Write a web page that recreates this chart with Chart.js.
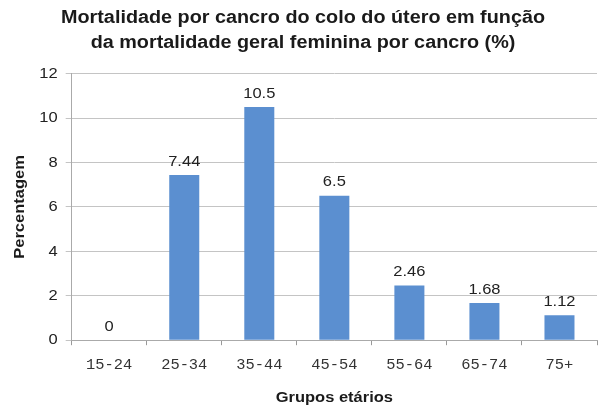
<!DOCTYPE html>
<html>
<head>
<meta charset="utf-8">
<script src="https://cdn.jsdelivr.net/npm/chart.js@4/dist/chart.umd.min.js"></script>
<style>
  html, body { margin: 0; padding: 0; background: #fff; }
  #wrap { width: 601px; height: 408px; }
</style>
</head>
<body>
<div id="wrap"><canvas id="myChart" width="601" height="408"></canvas></div>
<script>
const labels = ['15-24', '25-34', '35-44', '45-54', '55-64', '65-74', '75+'];
const values = [0, 7.44, 10.5, 6.5, 2.46, 1.68, 1.12];
const valueText = ['0', '7.44', '10.5', '6.5', '2.46', '1.68', '1.12'];

const SANS = '"Liberation Sans", Arial, sans-serif';
const STRETCH = 1.1; // the original picture's text is a bit wider than Arial

// widen every piece of text a little, around its anchor point
const canvas = document.getElementById('myChart');
const ctx2d = canvas.getContext('2d');
const plainFill = ctx2d.fillText;
ctx2d.fillText = function(text, x, y) {
    this.save();
    this.translate(x, y);
    this.scale(STRETCH, 1);
    plainFill.call(this, text, 0, 0);
    this.restore();
};

// draws the number above each bar
const barValues = {
    id: 'barValues',
    afterDatasetsDraw(chart) {
        const ctx = chart.ctx;
        const meta = chart.getDatasetMeta(0);
        ctx.save();
        ctx.font = '15px ' + SANS;
        ctx.fillStyle = '#222';
        ctx.textAlign = 'center';
        ctx.textBaseline = 'bottom';
        meta.data.forEach(function(bar, i) {
            ctx.fillText(valueText[i], bar.x, bar.y - 6);
        });
        ctx.restore();
    }
};

const data = {
    labels: labels,
    datasets: [{
        data: values,
        backgroundColor: '#5b8fd0',
        borderWidth: 0,
        barPercentage: 0.4,
        categoryPercentage: 1.0
    }]
};

const config = {
    type: 'bar',
    data: data,
    options: {
        responsive: false,
        animation: false,
        layout: { padding: { left: 9, right: 4, top: 0, bottom: 0 } },
        plugins: {
            legend: { display: false },
            tooltip: { enabled: false },
            title: {
                display: true,
                text: ['Mortalidade por cancro do colo do útero em função',
                       'da mortalidade geral feminina por cancro (%)'],
                color: '#1a1a1a',
                font: { family: SANS, size: 18, weight: 'bold', lineHeight: 1.38 },
                padding: { top: 6, bottom: 18 }
            }
        },
        scales: {
            x: {
                grid: { offset: true, drawOnChartArea: false, color: '#999', tickLength: 5 },
                border: { color: '#aaa' },
                ticks: {
                    color: '#333',
                    font: { family: '"Liberation Mono", "DejaVu Sans Mono", monospace', size: 14 },
                    padding: 12,
                    maxRotation: 0
                },
                title: {
                    display: true,
                    text: 'Grupos etários',
                    color: '#1a1a1a',
                    font: { family: SANS, size: 15, weight: 'bold' },
                    padding: { top: 3, bottom: 1 }
                }
            },
            y: {
                min: 0,
                max: 12,
                ticks: {
                    stepSize: 2,
                    color: '#222',
                    font: { family: SANS, size: 15 },
                    padding: 8
                },
                grid: { color: '#c4c4c4', tickLength: 6 },
                border: { color: '#aaa' },
                title: {
                    display: true,
                    text: 'Percentagem',
                    color: '#1a1a1a',
                    font: { family: SANS, size: 15, weight: 'bold' },
                    padding: { top: 2, bottom: 4 }
                }
            }
        }
    },
    plugins: [barValues]
};

const chart = new Chart(canvas, config);
</script>
</body>
</html>
